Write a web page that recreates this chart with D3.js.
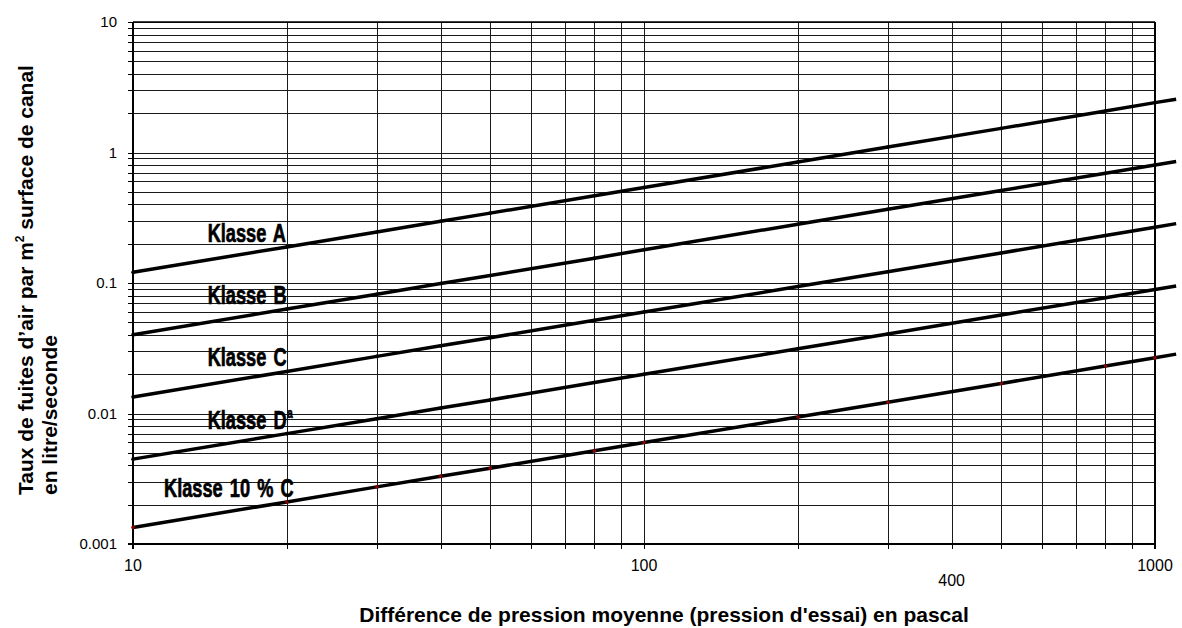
<!DOCTYPE html>
<html>
<head>
<meta charset="utf-8">
<script src="https://cdn.jsdelivr.net/npm/d3@7/dist/d3.min.js"></script>
<style>
  html, body { margin: 0; padding: 0; background: #fff; }
  svg { display: block; }
  text { font-family: "Liberation Sans", Arial, Helvetica, sans-serif; }
</style>
</head>
<body>
<svg id="chart" width="1182" height="628"></svg>
<script>
// ---- data ----
const pressure = [10, 20, 30, 40, 50, 80, 100, 200, 300, 500, 800, 1000, 1100];
const klasseA  = [0.121, 0.189, 0.246, 0.297, 0.343, 0.466, 0.539, 0.845, 1.10, 1.53, 2.08, 2.41, 2.56];
const klasseB  = [0.0402, 0.0631, 0.0821, 0.0990, 0.114, 0.155, 0.180, 0.282, 0.367, 0.511, 0.694, 0.802, 0.854];
const klasseC  = [0.0134, 0.0210, 0.0274, 0.0330, 0.0381, 0.0518, 0.0599, 0.0939, 0.122, 0.170, 0.231, 0.267, 0.285];
const klasseD  = [0.00447, 0.00701, 0.00912, 0.0110, 0.0127, 0.0173, 0.0200, 0.0313, 0.0407, 0.0568, 0.0771, 0.0891, 0.0948];
const klasse10C = [0.00134, 0.00210, 0.00274, 0.00330, 0.00381, 0.00518, 0.00599, 0.00939, 0.0122, 0.0170, 0.0231, 0.0267, 0.0285];
const seriesNames = ["Klasse A", "Klasse B", "Klasse C", "Klasse D", "Klasse 10 % C"];
const yTickValues = [0.001, 0.01, 0.1, 1, 10];
const yTickLabels = ["0.001", "0.01", "0.1", "1", "10"];
const xTickValues = [10, 100, 1000];
const xTickLabels = ["10", "100", "1000"];
const xExtraValue = 400;
const xExtraLabel = "400";
const yTitleLines = ["Taux de fuites d\u2019air par m", "en litre/seconde"];
const xTitle = "Diff\u00e9rence de pression moyenne (pression d'essai) en pascal";

// ---- layout ----
const svg = d3.select("#chart");
const W = 1182, H = 628;
const mLeft = 133, mRight = 1155, mTop = 22, mBottom = 544;
svg.append("rect").attr("width", W).attr("height", H).attr("fill", "#fff");

const x = d3.scaleLog().domain([10, 1000]).range([mLeft, mRight]);
const y = d3.scaleLog().domain([0.001, 10]).range([mBottom, mTop]);

// grid
const gGrid = svg.append("g").attr("shape-rendering", "crispEdges");
gGrid.append("g")
  .attr("transform", `translate(${mLeft},0)`)
  .call(d3.axisLeft(y).ticks(10).tickSize(-(mRight - mLeft)).tickFormat(""))
  .call(g => g.select(".domain").remove())
  .call(g => g.selectAll("line").attr("stroke", "#1a1a1a").attr("stroke-width", 1));
gGrid.append("g")
  .attr("transform", `translate(0,${mBottom})`)
  .call(d3.axisBottom(x).ticks(10).tickSize(-(mBottom - mTop)).tickFormat(""))
  .call(g => g.select(".domain").remove())
  .call(g => g.selectAll("line").attr("stroke", "#1a1a1a").attr("stroke-width", 1));

// outer tick marks
const gTicks = svg.append("g").attr("shape-rendering", "crispEdges");
gTicks.append("g")
  .attr("transform", `translate(${mLeft},0)`)
  .call(d3.axisLeft(y).ticks(10).tickSize(5).tickFormat(""))
  .call(g => g.select(".domain").remove())
  .call(g => g.selectAll("line").attr("stroke", "#000"));
gTicks.append("g")
  .attr("transform", `translate(0,${mBottom})`)
  .call(d3.axisBottom(x).ticks(10).tickSize(5).tickFormat(""))
  .call(g => g.select(".domain").remove())
  .call(g => g.selectAll("line").attr("stroke", "#000"));

// frame
svg.append("line").attr("x1", mLeft).attr("x2", mLeft).attr("y1", mTop).attr("y2", mBottom + 5)
  .attr("stroke", "#000").attr("stroke-width", 2);
svg.append("line").attr("x1", mLeft - 5).attr("x2", mRight).attr("y1", mBottom).attr("y2", mBottom)
  .attr("stroke", "#000").attr("stroke-width", 2);
svg.append("line").attr("x1", mRight).attr("x2", mRight).attr("y1", mTop).attr("y2", mBottom + 5)
  .attr("stroke", "#000").attr("stroke-width", 2);
svg.append("line").attr("x1", mLeft).attr("x2", mRight).attr("y1", mTop).attr("y2", mTop)
  .attr("stroke", "#000").attr("stroke-width", 1.5);

// y tick labels
svg.append("g").selectAll("text").data(yTickValues).join("text")
  .attr("x", mLeft - 16).attr("y", d => y(d)).attr("dy", "0.36em")
  .attr("text-anchor", "end").attr("font-size", 15).attr("fill", "#000")
  .text((d, i) => yTickLabels[i]);

// x tick labels
svg.append("g").selectAll("text").data(xTickValues).join("text")
  .attr("x", d => x(d)).attr("y", mBottom + 27)
  .attr("text-anchor", "middle").attr("font-size", 16).attr("fill", "#000")
  .text((d, i) => xTickLabels[i]);
svg.append("text").attr("x", x(xExtraValue)).attr("y", mBottom + 42)
  .attr("text-anchor", "middle").attr("font-size", 16).attr("fill", "#000")
  .text(xExtraLabel);

// axis titles
svg.append("text").attr("x", 664).attr("y", 622).attr("text-anchor", "middle")
  .attr("font-size", 21).attr("font-weight", "bold").text(xTitle);
const yt = svg.append("text").attr("transform", "translate(33,495) rotate(-90)")
  .attr("font-size", 21).attr("font-weight", "bold");
yt.append("tspan").text(yTitleLines[0]);
yt.append("tspan").attr("font-size", 12).attr("dy", -9).text("2");
yt.append("tspan").attr("dy", 9).text(" surface de canal");
svg.append("text").attr("transform", "translate(57,495) rotate(-90)")
  .attr("font-size", 21).attr("font-weight", "bold").text(yTitleLines[1]);

// series lines
const allSeries = [klasseA, klasseB, klasseC, klasseD, klasse10C];
const line = d3.line().x((d, i) => x(pressure[i])).y(d => y(d));
svg.append("g").selectAll("path").data(allSeries).join("path")
  .attr("d", d => line(d)).attr("fill", "none").attr("stroke", "#000")
  .attr("stroke-width", 3.5).attr("stroke-linejoin", "round");

// markers
allSeries.forEach((s, k) => {
  svg.append("g").selectAll("circle").data(s.filter((v, i) => pressure[i] <= 1000)).join("circle")
    .attr("cx", (d, i) => x(pressure[i])).attr("cy", d => y(d)).attr("r", 1.8)
    .attr("fill", k === 4 ? "#8b0000" : "#000");
});

// series labels
const labelStart = [14, 14, 14, 14, 11.5];
seriesNames.forEach((name, k) => {
  const s = allSeries[k];
  const bx = x(labelStart[k]);
  const by = y(s[1]) - 5;
  const t = svg.append("text")
    .attr("transform", `translate(${bx},${by}) scale(0.7,1)`)
    .attr("font-size", 26).attr("font-weight", "bold").attr("fill", "#000")
    .attr("stroke", "#000").attr("stroke-width", 0.7).attr("word-spacing", 3);
  t.append("tspan").text(name);
  if (k === 3) t.append("tspan").attr("font-size", 14).attr("dy", -11).attr("dx", 1).text("a");
});
</script>
</body>
</html>
